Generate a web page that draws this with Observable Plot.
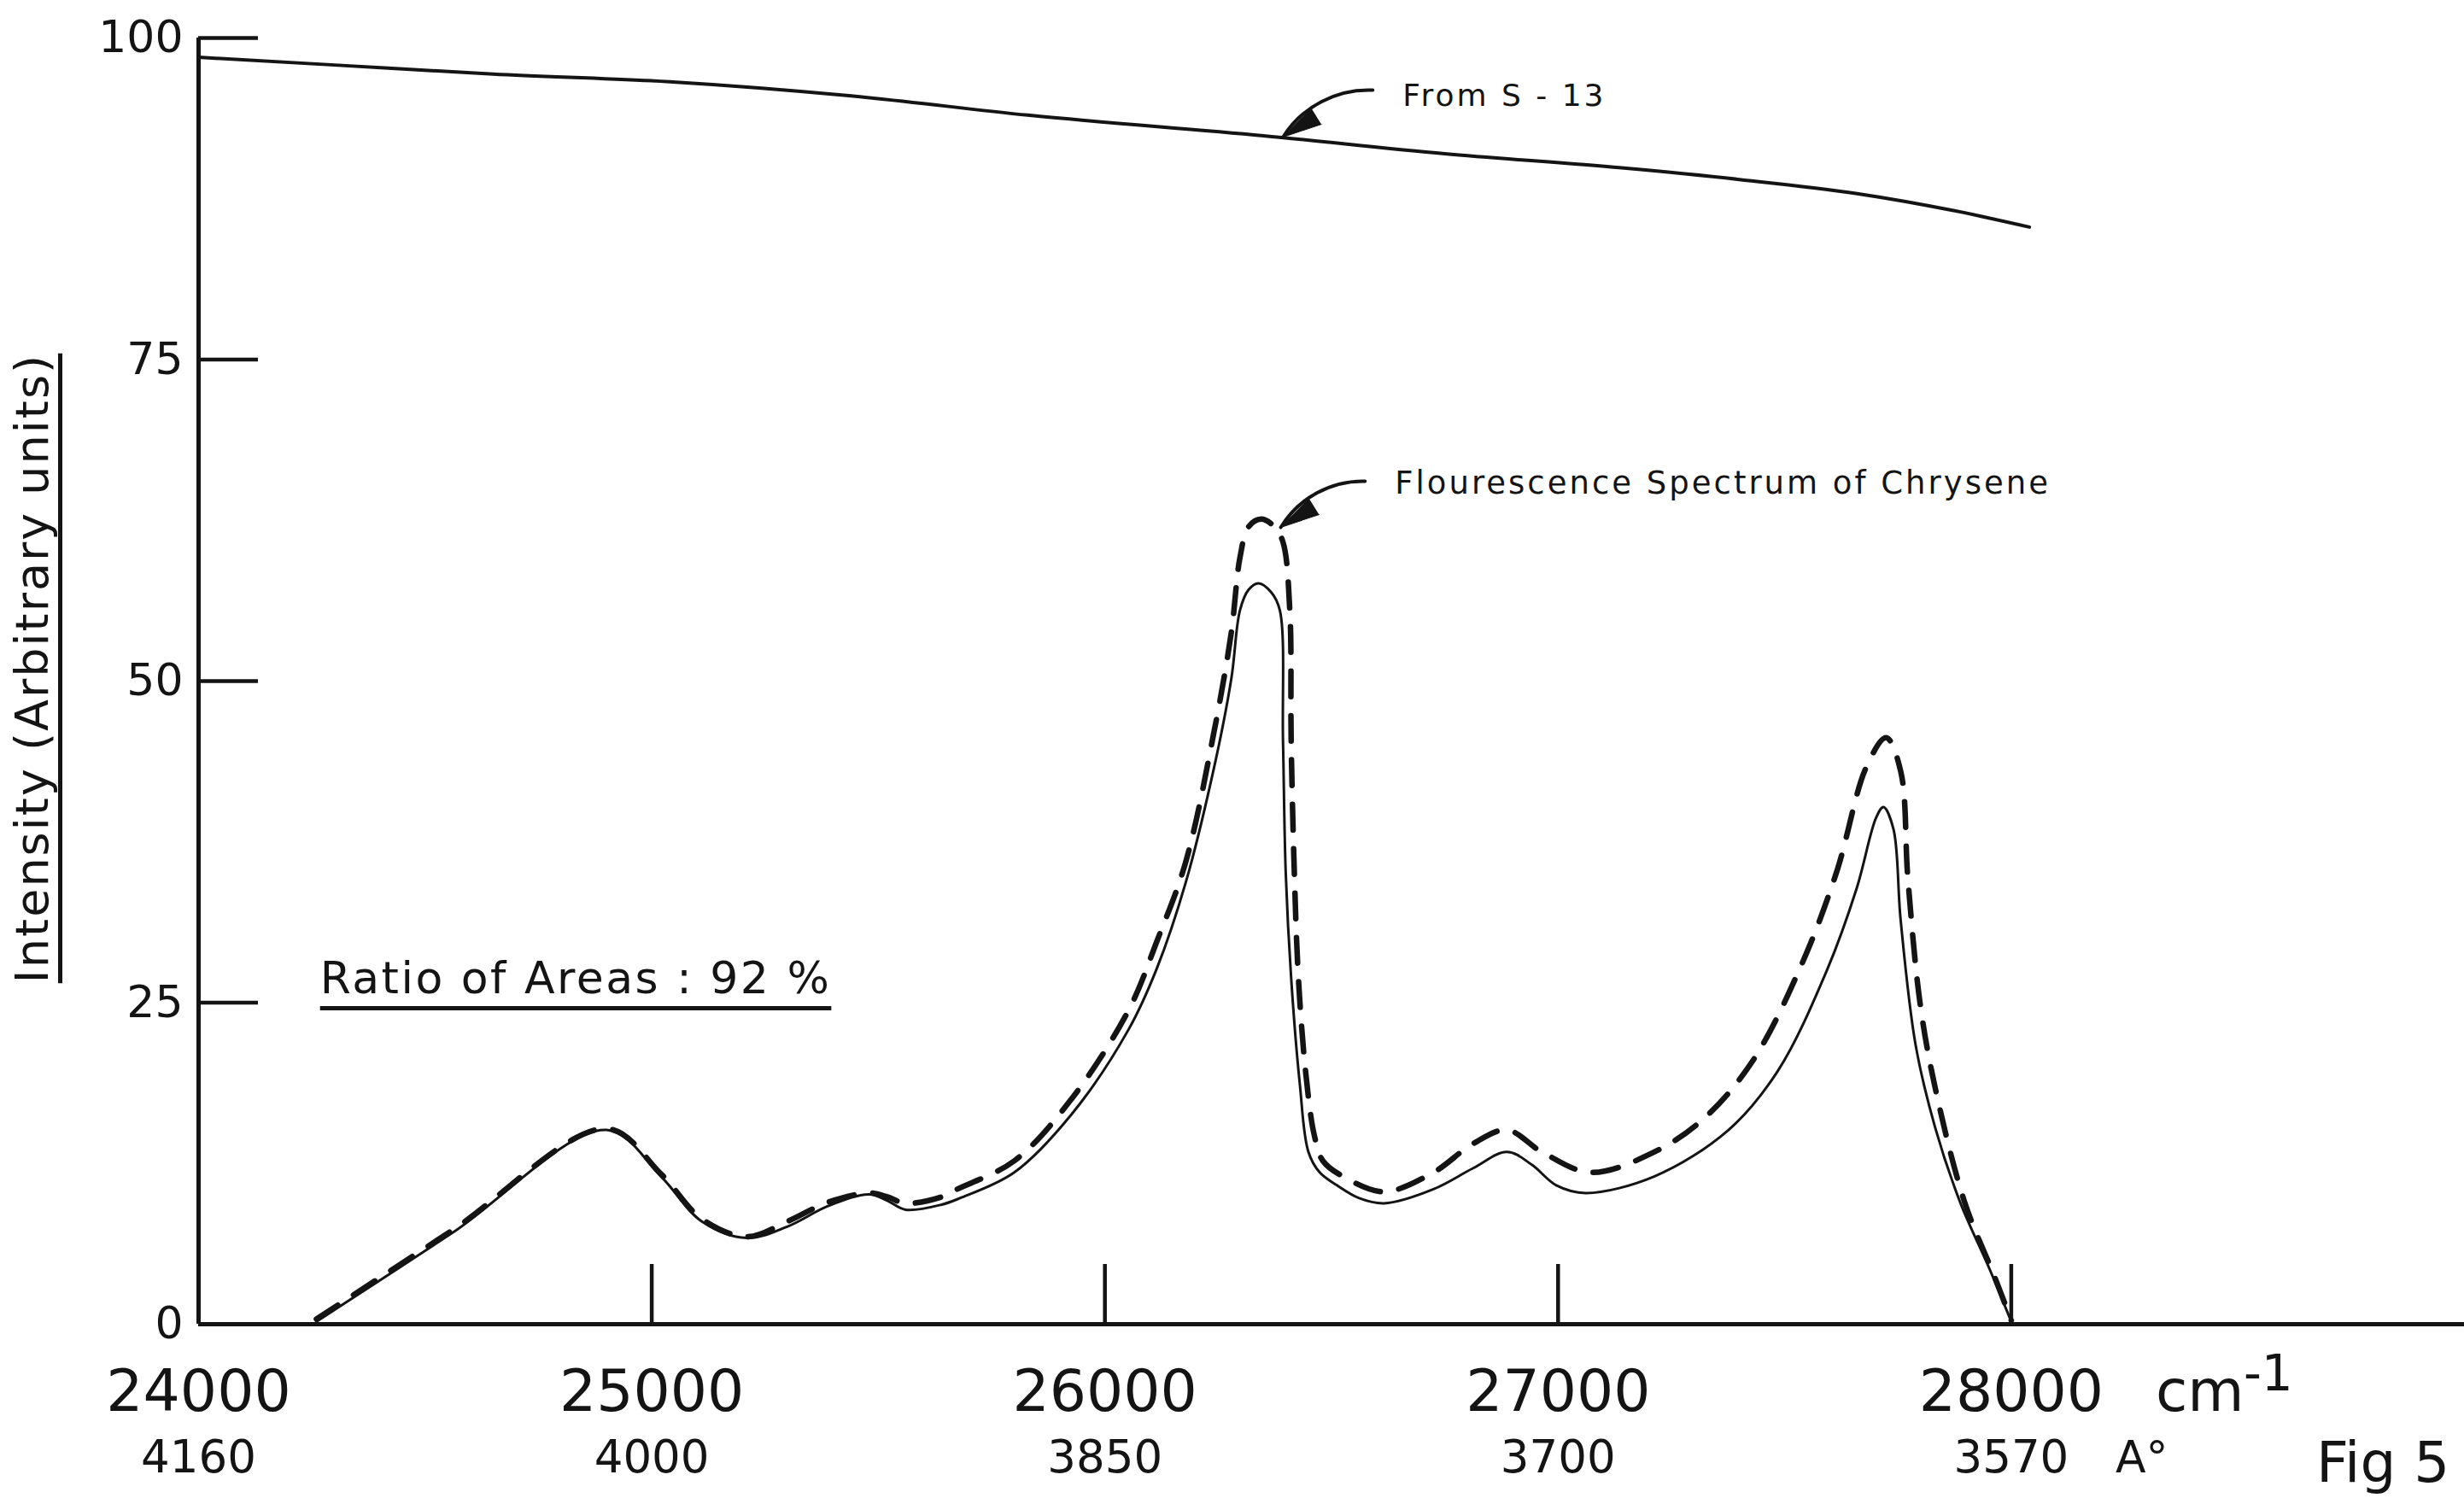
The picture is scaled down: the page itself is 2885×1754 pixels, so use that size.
<!DOCTYPE html>
<html>
<head>
<meta charset="utf-8">
<script src="https://cdn.jsdelivr.net/npm/d3@7"></script>
<script src="https://cdn.jsdelivr.net/npm/@observablehq/plot@0.6"></script>
<style>
  html, body { margin: 0; padding: 0; background: #ffffff; }
  svg { display: block; }
</style>
</head>
<body>
<script>
// ---------- data ----------
const xTicks = [24000, 25000, 26000, 27000, 28000];
const waveLabels = ["4160", "4000", "3850", "3700", "3570"];
const yTicks = [0, 25, 50, 75, 100];

// "From S - 13" curve
const s13Wn  = [24000, 24300, 24650, 25040, 25440, 25830, 26350, 26750, 27140, 27400, 27660, 27870, 28040];
const s13Int = [98.5, 97.9, 97.2, 96.6, 95.5, 94.0, 92.4, 91.0, 89.9, 89.0, 87.9, 86.6, 85.3];

// fluorescence spectrum, solid curve
const solidWn  = [24260, 24560, 24900, 25020, 25110, 25210, 25300, 25390, 25480, 25520, 25560, 25640, 25680, 25800, 25926, 26052, 26115, 26178, 26241, 26279, 26298, 26317, 26339, 26367, 26386, 26393, 26399, 26411, 26430, 26449, 26474, 26512, 26561, 26616, 26725, 26811, 26887, 26942, 26996, 27061, 27213, 27376, 27485, 27593, 27659, 27702, 27718, 27740, 27756, 27789, 27832, 27887, 27952, 28000];
const solidInt = [0.2, 7.1, 15.1, 11.5, 8.0, 6.7, 7.6, 9.2, 10.1, 9.6, 8.9, 9.3, 9.8, 11.8, 16.3, 22.9, 27.7, 34.3, 43.3, 50.2, 55.5, 57.1, 57.6, 56.9, 55.5, 45.3, 35.1, 26.9, 18.7, 13.4, 11.8, 10.8, 9.8, 9.4, 10.5, 12.1, 13.4, 12.4, 10.8, 10.2, 11.5, 15.1, 19.7, 27.5, 33.9, 39.4, 40.2, 38.5, 31.4, 21.7, 15.3, 9.5, 4.3, 0.2];

// fluorescence spectrum, dashed curve
const dashWn  = [24260, 24560, 24900, 25020, 25110, 25210, 25300, 25390, 25480, 25520, 25560, 25640, 25674, 25800, 25926, 26052, 26115, 26178, 26241, 26279, 26298, 26317, 26345, 26374, 26393, 26408, 26411, 26418, 26427, 26443, 26462, 26481, 26530, 26616, 26725, 26811, 26887, 26964, 27072, 27213, 27322, 27430, 27539, 27615, 27680, 27724, 27756, 27772, 27799, 27832, 27897, 27963, 28000];
const dashInt = [0.4, 7.3, 15.2, 11.7, 8.2, 6.8, 8.0, 9.5, 10.2, 9.9, 9.4, 9.9, 10.5, 12.7, 17.5, 24.4, 29.8, 35.9, 46.1, 53.8, 59.6, 62.0, 62.6, 62.0, 60.8, 55.5, 45.3, 35.1, 26.9, 19.6, 14.7, 12.7, 11.4, 10.3, 11.8, 14.0, 15.1, 13.4, 11.8, 13.4, 16.0, 20.5, 28.1, 35.2, 43.3, 45.6, 43.0, 34.6, 24.9, 18.4, 9.5, 3.7, 0.3];

// texts
const yTitle = "Intensity (Arbitrary units)";
const labelS13 = "From S - 13";
const labelChrysene = "Flourescence Spectrum of Chrysene";
const labelRatio = "Ratio of Areas : 92 %";
const unitCm = "cm";
const unitExp = "-1";
const unitA = "A°";
const figLabel = "Fig 5";

// ---------- build ----------
const toRows = (xs, ys) => xs.map((x, i) => ({x, y: ys[i]}));
const s13 = toRows(s13Wn, s13Int);
const solid = toRows(solidWn, solidInt);
const dashed = toRows(dashWn, dashInt);

const W = 2885, H = 1754;
const mL = 232, mR = 0, mT = 44, mB = 204;
const plotW = W - mL - mR, plotH = H - mT - mB;
const ink = "#141414";
const tickLen = 70;

// annotation arrows (start -> tip), in data units
const arrows = [
  {x1: 26591, y1: 95.95, x2: 26393, y2: 92.3, dir: 238},
  {x1: 26574, y1: 65.54, x2: 26388, y2: 61.95, dir: 238}
];

const chart = Plot.plot({
  width: W,
  height: H,
  marginLeft: mL, marginRight: mR, marginTop: mT, marginBottom: mB,
  x: {domain: [24000, 29000], axis: null},
  y: {domain: [0, 100], axis: null},
  style: {background: "#ffffff", color: ink, fontFamily: "DejaVu Sans"},
  marks: [
    // axes lines
    Plot.ruleY([0], {stroke: ink, strokeWidth: 5}),
    Plot.ruleX([xTicks[0]], {y1: yTicks[0], y2: yTicks[yTicks.length - 1], stroke: ink, strokeWidth: 5}),
    // inward ticks
    Plot.tickY(yTicks.slice(1), {y: d => d, insetRight: plotW - tickLen, stroke: ink, strokeWidth: 4.5}),
    Plot.tickX(xTicks.slice(1), {x: d => d, insetTop: plotH - tickLen, stroke: ink, strokeWidth: 4.5}),
    // tick labels
    Plot.text(yTicks, {x: xTicks[0], y: d => d, text: d => String(d), textAnchor: "end", dx: -18, fontSize: 52, fill: ink}),
    Plot.text(xTicks, {x: d => d, y: 0, text: d => String(d), lineAnchor: "bottom", dy: 101, fontSize: 68, fill: ink}),
    Plot.text(xTicks, {x: d => d, y: 0, text: (d, i) => waveLabels[i], lineAnchor: "bottom", dy: 173, fontSize: 53, fill: ink}),
    Plot.text([unitCm], {x: xTicks[4], y: 0, text: d => d, textAnchor: "start", lineAnchor: "bottom", dx: 169, dy: 101, fontSize: 68, fill: ink}),
    Plot.text([unitExp], {x: xTicks[4], y: 0, text: d => d, textAnchor: "start", lineAnchor: "bottom", dx: 272, dy: 77, fontSize: 58, fill: ink}),
    Plot.text([unitA], {x: xTicks[4], y: 0, text: d => d, textAnchor: "start", lineAnchor: "bottom", dx: 122, dy: 173, fontSize: 52, fill: ink}),
    Plot.text([figLabel], {x: xTicks[4], y: 0, text: d => d, textAnchor: "start", lineAnchor: "bottom", dx: 357, dy: 184, fontSize: 66, fill: ink}),
    // y title (baseline on the right side after rotation)
    Plot.text([yTitle], {frameAnchor: "left", text: d => d, rotate: -90, textAnchor: "middle", lineAnchor: "bottom", dx: -177, dy: -15, fontSize: 54, fill: ink}),
    // curves
    Plot.line(s13, {x: "x", y: "y", stroke: ink, strokeWidth: 4, curve: "monotone-x"}),
    Plot.line(solid, {x: "x", y: "y", stroke: ink, strokeWidth: 3, curve: "catmull-rom"}),
    Plot.line(dashed, {x: "x", y: "y", stroke: ink, strokeWidth: 6.5, strokeDasharray: "30,22", curve: "catmull-rom"}),
    // annotations
    Plot.text([labelS13], {x: 26657, y: 94.75, text: d => d, textAnchor: "start", lineAnchor: "bottom", fontSize: 36, fill: ink}),
    Plot.text([labelChrysene], {x: 26640, y: 64.6, text: d => d, textAnchor: "start", lineAnchor: "bottom", fontSize: 37, fill: ink}),
    Plot.arrow(arrows, {x1: "x1", y1: "y1", x2: "x2", y2: "y2", bend: -30, headLength: 0, stroke: ink, strokeWidth: 4}),
    Plot.vector(arrows, {x: "x2", y: "y2", rotate: "dir", anchor: "end", shape: "spike", length: 46, r: 11, fill: ink, stroke: ink, strokeWidth: 1}),
    Plot.text([labelRatio], {x: 24268, y: 25.7, text: d => d, textAnchor: "start", lineAnchor: "bottom", fontSize: 52, fill: ink})
  ]
});

document.body.appendChild(chart);

// text styling: letter spacing
const texts = d3.select(chart).selectAll("text");
texts.filter(function() { return this.textContent === yTitle; }).style("letter-spacing", "2px");
texts.filter(function() { return this.textContent === labelRatio; }).style("letter-spacing", "2.5px");
texts.filter(function() { return this.textContent === labelS13 || this.textContent === labelChrysene; })
  .style("letter-spacing", "3px");

// underline a text element (baseline at local y = 0, lineAnchor "bottom")
function underline(el, offset, thickness) {
  const bb = el.getBBox();
  const line = document.createElementNS("http://www.w3.org/2000/svg", "line");
  line.setAttribute("x1", bb.x);
  line.setAttribute("x2", bb.x + bb.width);
  line.setAttribute("y1", offset);
  line.setAttribute("y2", offset);
  line.setAttribute("stroke", ink);
  line.setAttribute("stroke-width", thickness);
  const t = el.getAttribute("transform");
  if (t) line.setAttribute("transform", t);
  el.parentNode.appendChild(line);
}
texts.filter(function() { return this.textContent === yTitle; }).each(function() { underline(this, 15, 5); });
texts.filter(function() { return this.textContent === labelRatio; }).each(function() { underline(this, 17, 5); });
</script>
</body>
</html>
